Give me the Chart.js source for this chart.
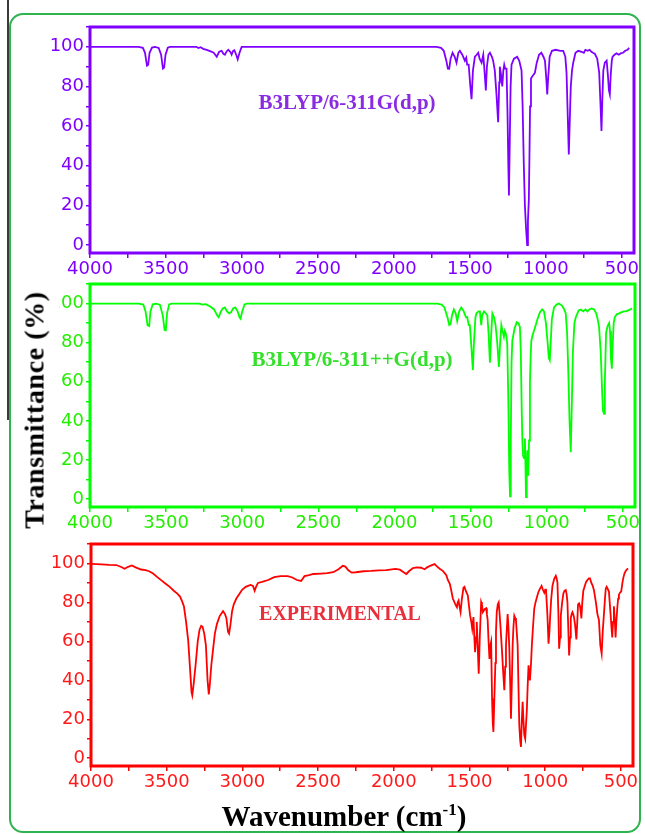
<!DOCTYPE html>
<html>
<head>
<meta charset="utf-8">
<script src="https://cdn.jsdelivr.net/npm/chart.js@4.4.1/dist/chart.umd.min.js"></script>
<style>
  html, body { margin: 0; padding: 0; background: #fff; }
  #page { position: relative; width: 645px; height: 834px; overflow: hidden; background: #fff; }
  canvas { position: absolute; left: 0; top: 0; }
  .frame { position: absolute; left: 9px; top: 13px; width: 632px; height: 820px; box-sizing: border-box;
           border: 2px solid #2db34f; border-radius: 14px; }
  .edge { position: absolute; left: 7px; top: 0; width: 2px; height: 420px; background: #3a3a3a; }
  .label { position: absolute; transform: translate(-50%, -50%); white-space: nowrap; line-height: 1;
           font-family: "Liberation Serif", serif; font-weight: bold; z-index: 5; }
  .ytitle { position: absolute; left: 38px; top: 410px; transform: translate(-50%, -50%) rotate(-90deg);
            white-space: nowrap; line-height: 1; font: bold 28px "Liberation Serif", serif; color: #000;
            letter-spacing: 0.6px; background: #fff; padding: 2px 4px 9px 4px; z-index: 5; }
  .xtitle { position: absolute; left: 344px; top: 816px; transform: translate(-50%, -50%);
            white-space: nowrap; line-height: 1; font: bold 29px "Liberation Serif", serif; color: #000; z-index: 5; }
  .xtitle sup { font-size: 17px; vertical-align: 11px; line-height: 0; }
</style>
</head>
<body>
<div id="page">
  <div class="frame"></div>
  <div class="edge"></div>
  <canvas id="calc1" width="645" height="834"></canvas>
  <canvas id="calc2" width="645" height="834"></canvas>
  <canvas id="expt" width="645" height="834"></canvas>
  <div class="label" style="left:347px; top:102px; font-size:21px; color:#8a2be2;">B3LYP/6-311G(d,p)</div>
  <div class="label" style="left:352px; top:359px; font-size:21px; color:#33e02a;">B3LYP/6-311++G(d,p)</div>
  <div class="label" style="left:340px; top:613px; font-size:20px; color:#e8303c;">EXPERIMENTAL</div>
  <div class="ytitle">Transmittance (%)</div>
  <div class="xtitle">Wavenumber (cm<sup>-1</sup>)</div>
</div>
<script>
// tick labels shown on the axes
const xTickLabels = [4000, 3500, 3000, 2500, 2000, 1500, 1000, 500];
const yTickLabels = [0, 20, 40, 60, 80, 100];

// [wavenumber, transmittance]
const b3lyp = [
  [4000,100],[3680,100],[3652,99.5],[3638,97],[3625,90.5],[3617,91],[3608,97],[3592,99.6],[3572,100],
  [3548,99.4],[3532,96],[3520,89],[3512,89.5],[3503,96],[3488,99.6],[3474,100],[3300,100],[3287,99.4],
  [3272,99.8],[3255,99],[3232,98.5],[3210,97.8],[3186,97],[3166,95],[3150,97.5],[3134,98],[3122,96.5],
  [3112,96],[3100,97.8],[3090,98.5],[3076,97.4],[3068,96],[3058,98],[3050,98.3],[3038,96],[3028,93.7],
  [3016,97],[3002,100],[1720,100],[1690,99.5],[1672,98],[1655,93],[1645,89],[1636,88.9],[1627,94],
  [1614,97],[1600,95],[1588,92],[1576,97],[1566,98],[1550,96],[1533,93],[1524,94.5],[1518,91],[1508,91],
  [1497,80],[1489,73.6],[1480,88],[1467,95],[1455,96],[1445,97],[1436,94],[1423,92],[1412,96],[1404,88],
  [1395,78],[1388,90],[1378,96],[1368,97],[1355,95],[1347,93],[1336,88],[1325,76],[1314,62],[1307,82],
  [1303,90],[1295,86],[1287,80],[1280,88],[1274,91],[1268,89],[1259,89],[1252,65],[1247,40],[1243,25],
  [1238,50],[1232,80],[1226,91],[1210,94],[1189,95],[1175,93],[1160,88],[1153,70],[1145,40],[1138,20],
  [1130,8],[1123,0],[1118,12],[1112,23],[1108,45],[1104,70],[1098,84],[1090,85],[1080,86],[1072,87],
  [1060,92],[1045,96],[1030,97],[1016,95],[1006,93],[998,85],[991,76],[985,84],[975,95],[960,98],
  [935,98.5],[905,98],[886,98],[872,95],[864,87],[856,65],[849,45.7],[843,62],[836,80],[828,88],[820,92],
  [805,97],[787,98],[765,97.5],[750,97],[740,98.5],[725,98],[712,98.5],[700,97.5],[690,97],[678,96.5],
  [662,94],[649,87],[640,70],[634,57.6],[629,72],[622,88],[612,92],[600,93],[592,86],[585,78],[579,76],
  [573,86],[566,93],[561,95],[548,96],[535,96.7],[520,96],[505,96.8],[492,97],[478,98],[462,98.5],[452,99.5]
];

const b3lypDiffuse = [
  [4000,100],[3680,100],[3650,99.5],[3635,96],[3622,89],[3611,88.5],[3603,96],[3588,99.6],[3565,100],
  [3540,99.3],[3522,94],[3510,86.5],[3502,86.3],[3494,95],[3480,99.6],[3465,100],[3280,100],[3263,99.5],
  [3240,99.7],[3210,98.5],[3185,97],[3165,94],[3155,93],[3140,96],[3128,97.5],[3114,98],[3100,96],
  [3086,95],[3074,95.5],[3060,97.5],[3046,98],[3030,96],[3018,93],[3011,92.3],[3000,96],[2985,99.6],
  [2970,100],[1720,100],[1690,99.5],[1672,98],[1652,93],[1640,89],[1632,89.4],[1622,94],[1610,97],
  [1598,95],[1588,91],[1575,96],[1561,98],[1545,96],[1530,93],[1522,93],[1512,89],[1505,89],[1495,78],
  [1485,66],[1478,80],[1468,93],[1461,95],[1448,96],[1439,96],[1434,92],[1430,89],[1424,94],[1412,96],
  [1400,95],[1390,94],[1382,85],[1373,69.7],[1366,82],[1357,95],[1346,93],[1336,89],[1325,80],[1314,67.6],
  [1306,80],[1298,89],[1290,86],[1281,83],[1275,86],[1270,85],[1264,83],[1259,79],[1252,50],[1246,15],
  [1241,1.4],[1236,30],[1231,70],[1226,81],[1212,87],[1197,90.5],[1186,90],[1176,88],[1170,75],[1164,45],
  [1160,30],[1155,22],[1149,21],[1143,31],[1139,15],[1136,1],[1131,15],[1127,25],[1124,18],[1121,12],
  [1116,30],[1110,60],[1104,76],[1101,81],[1092,84],[1084,86],[1072,89],[1061,92],[1045,95.5],[1030,97],
  [1018,96],[1005,90],[994,80],[986,72],[980,71],[975,78],[966,92],[952,98],[935,99.5],[919,100],[900,99],
  [885,97],[875,95],[866,85],[858,65],[850,40],[842,24],[836,45],[828,75],[818,90],[809,93],[790,96.5],
  [776,97],[760,96],[745,97],[732,96],[720,97],[705,97.5],[689,97],[675,95],[665,92],[656,88],[645,75],
  [636,55],[630,45],[623,43.6],[618,60],[610,85],[600,88.5],[590,90],[584,86],[578,72],[572,66.7],
  [566,80],[560,90],[553,93],[540,94.5],[524,95],[510,95.5],[495,96],[480,96],[465,96.5],[450,97],[440,97.6]
];

const experimental = [
  [4000,99.8],[3930,99.5],[3880,99.3],[3833,99.2],[3800,98.2],[3778,97.3],[3755,98.3],[3730,99],[3705,98],
  [3670,96.9],[3640,96.6],[3616,96],[3590,94.8],[3562,93],[3535,91.3],[3507,89.6],[3480,88],[3453,86],
  [3430,84.5],[3412,83],[3398,80.5],[3386,77.9],[3372,70],[3358,60.5],[3345,45],[3336,34],[3331,32.3],
  [3322,38],[3309,48],[3295,60],[3283,66],[3272,68],[3263,67.5],[3252,64],[3241,58],[3230,40],[3222,32.8],
  [3215,38],[3205,48],[3195,55],[3182,64],[3168,69],[3150,73],[3128,75.5],[3115,74],[3106,72],[3095,65],
  [3088,64],[3080,68],[3068,75.5],[3057,79],[3040,82],[3019,84.5],[3002,86.5],[2978,88],[2947,89],
  [2930,88.5],[2919,86],[2910,88],[2897,90],[2870,90.5],[2830,91.5],[2790,93],[2748,93.5],[2700,93.5],
  [2670,92.8],[2640,91.5],[2612,91],[2590,93.5],[2560,94],[2531,94.6],[2480,94.8],[2440,95],[2400,95.5],
  [2365,97],[2337,98.8],[2320,98.4],[2300,96.5],[2278,95.3],[2250,95.5],[2200,96],[2151,96.2],[2100,96.5],
  [2050,96.6],[1989,97.2],[1960,96.8],[1935,95.5],[1917,94.6],[1900,96],[1873,97.6],[1850,98],[1820,97.8],
  [1796,97],[1780,98],[1760,98.8],[1731,99.7],[1715,98.5],[1697,97.3],[1676,96.2],[1653,94],[1643,91.5],
  [1630,89.5],[1620,86],[1610,82],[1599,80],[1590,78.5],[1583,77.5],[1578,80],[1572,81],[1566,78],
  [1559,75],[1550,82],[1540,87.5],[1533,88],[1525,86],[1511,83.6],[1503,78],[1496,73.3],[1488,70],
  [1482,66.5],[1474,72.5],[1468,62],[1463,54.5],[1457,62],[1452,70],[1446,58],[1439,43.4],[1432,62],
  [1423,80.2],[1418,79],[1412,75],[1400,76.5],[1390,77],[1385,74],[1380,71],[1374,60],[1368,51],[1362,58],
  [1357,59.8],[1351,30.6],[1346,18],[1342,13.5],[1336,30],[1329,49],[1325,65],[1320,75],[1313,79],[1307,80],
  [1301,74],[1296,68.4],[1290,61],[1285,54.7],[1278,45],[1270,34.9],[1264,47],[1259,58],[1253,67],[1248,74],
  [1243,68],[1237,56.5],[1231,38],[1226,20.3],[1220,40],[1215,58],[1210,67],[1204,73.2],[1198,72],
  [1193,70.7],[1188,65],[1182,58],[1176,35],[1171,17],[1165,9],[1160,5.8],[1155,18],[1149,29],[1144,20],
  [1138,11.9],[1132,10],[1127,10],[1121,25],[1116,36.6],[1110,47.7],[1105,43],[1101,40],[1094,48],
  [1088,58],[1080,68],[1072,77],[1064,80],[1057,82],[1050,84],[1044,85.5],[1035,87],[1024,88.5],
  [1015,86.5],[1006,85],[1000,86.5],[995,87],[990,80],[985,73],[978,58.8],[972,65],[967,73],[960,82],
  [952,88.5],[941,92],[930,93.7],[925,92.5],[919,90],[913,75],[908,56.2],[902,62],[897,73],[888,80],
  [880,84.6],[872,86],[864,86.3],[858,84],[853,80],[848,68],[842,52.8],[836,62],[831,72],[825,74],[820,75],
  [815,74],[809,72],[802,68],[794,61],[788,70],[783,79],[776,79.5],[770,78],[765,75],[761,71.8],[755,80],
  [748,86],[740,88],[730,90.5],[722,91.4],[712,92.3],[704,92.3],[695,90],[686,88.5],[678,86.3],[665,80],
  [655,74],[645,71],[636,58],[627,53.7],[620,65],[612,74],[605,82],[600,87],[594,88],[587,87],[579,85.6],
  [572,78],[568,74],[562,67],[557,62],[552,70],[546,78],[540,70],[535,62],[530,70],[524,77],[518,82],
  [513,84],[506,85],[498,85.6],[490,90],[484,92.6],[476,95],[469,96],[460,97],[452,97.4]
];

// box around each plot area
const frameBox = {
  id: 'frameBox',
  afterDatasetsDraw(chart, args, opts) {
    const a = chart.chartArea;
    const ctx = chart.ctx;
    ctx.save();
    ctx.strokeStyle = opts.color;
    ctx.lineWidth = 3;
    ctx.strokeRect(a.left, a.top, a.right - a.left, a.bottom - a.top);
    ctx.restore();
  }
};

function drawPanel(id, points, color, tickColor, area) {
  const tickFont = { family: 'DejaVu Sans', size: 18 };
  new Chart(document.getElementById(id), {
    type: 'scatter',
    data: {
      datasets: [{
        data: points.map(p => ({ x: p[0], y: p[1] })),
        showLine: true,
        borderColor: color,
        borderWidth: 1.8,
        pointRadius: 0,
        tension: 0,
        fill: false
      }]
    },
    options: {
      responsive: false,
      animation: false,
      devicePixelRatio: 1,
      layout: {
        padding: { left: area.left - 90, right: 645 - area.right, top: area.top, bottom: 834 - area.bottom - 30 }
      },
      plugins: { legend: { display: false }, tooltip: { enabled: false }, frameBox: { color } },
      scales: {
        x: {
          type: 'linear', reverse: true, min: 420, max: 4000,
          afterFit: s => { s.height = 30; },
          border: { display: false },
          grid: { drawOnChartArea: false, drawTicks: true, tickLength: 5, color, lineWidth: 1.5 },
          ticks: {
            stepSize: 250, includeBounds: false, autoSkip: false, maxRotation: 0, padding: 1,
            color: tickColor, font: tickFont,
            callback: v => xTickLabels.includes(v) ? String(v) : ''
          }
        },
        y: {
          min: -4, max: 110,
          afterFit: s => { s.width = 90; },
          border: { display: false },
          grid: { drawOnChartArea: false, drawTicks: true, tickLength: 4, color, lineWidth: 1.5 },
          ticks: {
            stepSize: 10, includeBounds: false, autoSkip: false, padding: 2,
            color: tickColor, font: tickFont,
            callback: v => yTickLabels.includes(v) ? String(v) : ''
          }
        }
      }
    },
    plugins: [frameBox]
  });
}

drawPanel('calc1', b3lyp, '#8000ff', '#8000ff', { left: 90, right: 634, top: 27, bottom: 253 });
drawPanel('calc2', b3lypDiffuse, '#00ff00', '#22ee00', { left: 90, right: 635, top: 284, bottom: 507 });
drawPanel('expt', experimental, '#ff0000', '#ff1a1a', { left: 91, right: 633, top: 544, bottom: 766 });
</script>
</body>
</html>
